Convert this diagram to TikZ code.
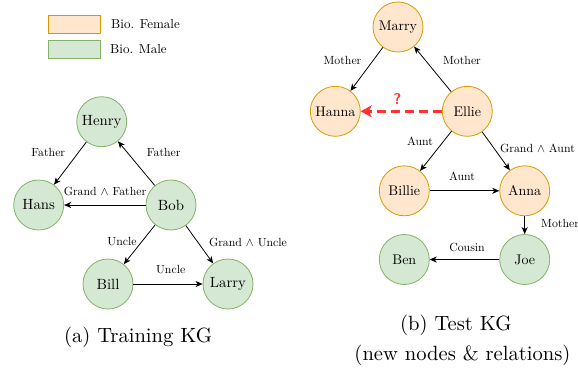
\documentclass[tikz,border=0pt]{standalone}
\usepackage{fontspec}
\setmainfont{lmroman10-regular.otf}[BoldFont=lmroman10-bold.otf, ItalicFont=lmroman10-italic.otf]
\usetikzlibrary{arrows.meta}
\definecolor{femfill}{HTML}{FFE6CC}
\definecolor{femdraw}{HTML}{D79B00}
\definecolor{malefill}{HTML}{D5E8D4}
\definecolor{maledraw}{HTML}{82B366}
\definecolor{qred}{HTML}{FF3333}
\tikzset{
  person/.style={circle, minimum size=50pt, inner sep=0pt, line width=0.8pt, font=\fontsize{14}{16}\selectfont},
  bigperson/.style={font=\fontsize{14.8}{17}\selectfont},
  female/.style={person, fill=femfill, draw=femdraw},
  male/.style={person, fill=malefill, draw=maledraw},
  rel/.style={draw=black, line width=0.8pt, -{Stealth[length=7pt,width=6pt,inset=2pt]}},
  lbl/.style={font=\fontsize{11.8}{13}\selectfont, inner sep=0pt},
  legbox/.style={minimum width=52pt, minimum height=18pt, inner sep=0pt, line width=0.8pt},
  legtext/.style={anchor=west, inner sep=0pt, font=\fontsize{13}{15}\selectfont},
  caption/.style={font=\fontsize{20.6}{24}\selectfont, inner sep=0pt}
}
\begin{document}
\begin{tikzpicture}[x=1pt,y=-1pt]
\useasboundingbox (0,0) rectangle (578,368);
% legend
\node[legbox, fill=femfill, draw=femdraw] (lf) at (74,24) {};
\node[legtext] (lft) at (111,24) {Bio. Female};
\node[legbox, fill=malefill, draw=maledraw] (lm) at (74,49.5) {};
\node[legtext] (lmt) at (110,49.5) {Bio. Male};
% training KG
\node[male, bigperson] (henry) at (101.7,121.7) {Henry};
\node[male, bigperson] (hans) at (38.7,205) {Hans};
\node[male, bigperson] (bob) at (171,205) {Bob};
\node[male, bigperson] (bill) at (108,284) {Bill};
\node[male, bigperson] (larry) at (228,284) {Larry};
\draw[rel] (henry) -- (hans);
\draw[rel] (bob) -- (henry);
\draw[rel] (bob) -- (hans);
\draw[rel] (bob) -- (bill);
\draw[rel] (bob) -- (larry);
\draw[rel] (bill) -- (larry);
\node[lbl] (l1) at (48.3,152.5) {Father};
\node[lbl] (l2) at (163.7,152.5) {Father};
\node[lbl] (l3) at (105,191) {Grand $\wedge$ Father};
\node[lbl] (l4) at (122,242) {Uncle};
\node[lbl] (l5) at (248,242) {Grand $\wedge$ Uncle};
\node[lbl] (l6) at (170.7,270) {Uncle};
\node[caption] (capa) at (138,337) {(a) Training KG};
% test KG
\node[female] (marry) at (398,27) {Marry};
\node[female] (hanna) at (335.3,111.3) {Hanna};
\node[female] (ellie) at (467.3,111.3) {Ellie};
\node[female] (billie) at (404.3,190.8) {Billie};
\node[female] (anna) at (524.7,190.8) {Anna};
\node[male] (ben) at (404.3,259.5) {Ben};
\node[male] (joe) at (524.7,259.5) {Joe};
\draw[rel] (marry) -- (hanna);
\draw[rel] (ellie) -- (marry);
\draw[rel] (ellie) -- (billie);
\draw[rel] (ellie) -- (anna);
\draw[rel] (billie) -- (anna);
\draw[rel] (anna) -- (joe);
\draw[rel] (joe) -- (ben);
\draw[draw=qred, line width=2.4pt, dash pattern=on 9pt off 5pt, -{Stealth[length=11pt,width=12pt,inset=3pt]}] (ellie) -- (hanna);
\node[font=\sffamily\bfseries\fontsize{15.5}{17}\selectfont, text=qred, inner sep=0pt] (q) at (397.5,99.5) {?};
\node[lbl] (m1) at (342.5,60) {Mother};
\node[lbl] (m2) at (462,60) {Mother};
\node[lbl] (a1) at (420,141.7) {Aunt};
\node[lbl] (ga) at (537.5,148.3) {Grand $\wedge$ Aunt};
\node[lbl] (a2) at (462,176) {Aunt};
\node[lbl, anchor=west] (m3) at (541,223) {Mother};
\node[lbl] (co) at (467,247) {Cousin};
\node[caption] (capb1) at (455.8,325) {(b) Test KG};
\node[caption] (capb2) at (462.5,355) {(new nodes \& relations)};
\end{tikzpicture}
\end{document}
